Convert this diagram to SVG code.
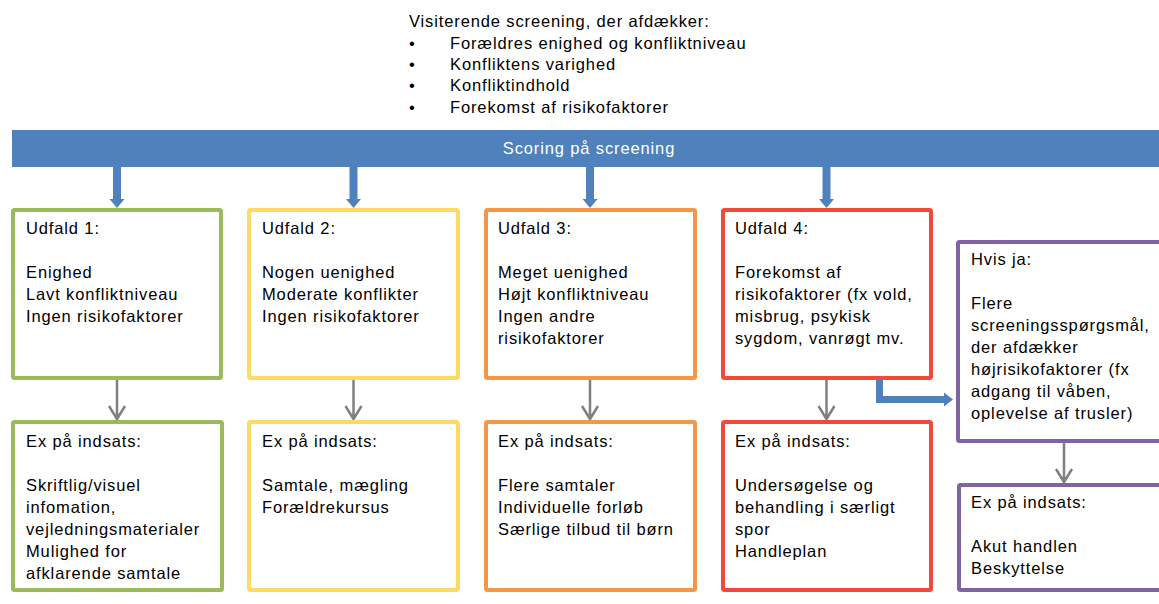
<svg xmlns="http://www.w3.org/2000/svg" width="1159" height="604" viewBox="0 0 1159 604">
<defs>
<style>
text{font-family:"Liberation Sans",Arial,sans-serif;font-size:16.5px;letter-spacing:0.87px;fill:#000}
.box{fill:#fff;stroke-width:4}
.g{stroke:#9BBB59}.y{stroke:#FFD966}.o{stroke:#F79646}.r{stroke:#F24A3A}.p{stroke:#8064A2}
.gray{stroke:#808080;stroke-width:2.5;fill:none}
.blue{fill:#4F81BD}
</style>
</defs>
<rect width="1159" height="604" fill="#fff"/>
<g id="intro">
<text x="409" y="27">Visiterende screening, der afdækker:</text>
<text x="409" y="48.5">•</text><text x="450" y="48.5">Forældres enighed og konfliktniveau</text>
<text x="409" y="70">•</text><text x="450" y="70">Konfliktens varighed</text>
<text x="409" y="91">•</text><text x="450" y="91">Konfliktindhold</text>
<text x="409" y="112.5">•</text><text x="450" y="112.5">Forekomst af risikofaktorer</text>
</g>
<g id="scoring">
<rect x="12" y="130" width="1147" height="37" class="blue"/>
<text x="589" y="154" text-anchor="middle" style="fill:#fff">Scoring på screening</text>
</g>
<g id="connectors">
<polygon class="blue" points="113,167 121,167 121,199 124.5,199 117,208 109.5,199 113,199"/>
<polygon class="blue" points="349.5,167 357.5,167 357.5,199 361,199 353.5,208 346,199 349.5,199"/>
<polygon class="blue" points="586,167 594,167 594,199 597.5,199 590,208 582.5,199 586,199"/>
<polygon class="blue" points="822.5,167 830.5,167 830.5,199 834,199 826.5,208 819,199 822.5,199"/>
<polygon class="blue" points="876,380 883,380 883,396 944,396 944,392.5 953,399.5 944,406.5 944,403 876,403"/>
<g class="gray">
<path d="M117,380V419M109,406L117,419L125,406"/>
<path d="M353.5,380V419M345.5,406L353.5,419L361.5,406"/>
<path d="M590,380V419M582,406L590,419L598,406"/>
<path d="M826.5,380V419M818.5,406L826.5,419L834.5,406"/>
<path d="M1064,443V482M1056,469L1064,482L1072,469"/>
</g>
</g>
<g id="udfald1">
<rect x="13" y="210" width="208" height="168" rx="1.5" class="box g"/>
<text x="26" y="234">Udfald 1:</text>
<text x="26" y="278">Enighed</text>
<text x="26" y="300">Lavt konfliktniveau</text>
<text x="26" y="322">Ingen risikofaktorer</text>
</g>
<g id="udfald2">
<rect x="249" y="210" width="209" height="168" rx="1.5" class="box y"/>
<text x="262" y="234">Udfald 2:</text>
<text x="262" y="278">Nogen uenighed</text>
<text x="262" y="300">Moderate konflikter</text>
<text x="262" y="322">Ingen risikofaktorer</text>
</g>
<g id="udfald3">
<rect x="486" y="210" width="209" height="168" rx="1.5" class="box o"/>
<text x="498" y="234">Udfald 3:</text>
<text x="498" y="278">Meget uenighed</text>
<text x="498" y="300">Højt konfliktniveau</text>
<text x="498" y="322">Ingen andre</text>
<text x="498" y="344">risikofaktorer</text>
</g>
<g id="udfald4">
<rect x="723" y="210" width="208" height="168" rx="1.5" class="box r"/>
<text x="735" y="234">Udfald 4:</text>
<text x="735" y="278">Forekomst af</text>
<text x="735" y="300">risikofaktorer (fx vold,</text>
<text x="735" y="322">misbrug, psykisk</text>
<text x="735" y="344">sygdom, vanrøgt mv.</text>
</g>
<g id="hvisja">
<rect x="958" y="242" width="220" height="199" rx="1.5" class="box p"/>
<text x="971" y="265">Hvis ja:</text>
<text x="971" y="309">Flere</text>
<text x="971" y="331">screeningsspørgsmål,</text>
<text x="971" y="353">der afdækker</text>
<text x="971" y="375">højrisikofaktorer (fx</text>
<text x="971" y="397">adgang til våben,</text>
<text x="971" y="419">oplevelse af trusler)</text>
</g>
<g id="indsats1">
<rect x="13" y="422" width="209" height="168" rx="1.5" class="box g"/>
<text x="26" y="447">Ex på indsats:</text>
<text x="26" y="491">Skriftlig/visuel</text>
<text x="26" y="513">infomation,</text>
<text x="26" y="535">vejledningsmaterialer</text>
<text x="26" y="557">Mulighed for</text>
<text x="26" y="579">afklarende samtale</text>
</g>
<g id="indsats2">
<rect x="249" y="422" width="209" height="168" rx="1.5" class="box y"/>
<text x="262" y="447">Ex på indsats:</text>
<text x="262" y="491">Samtale, mægling</text>
<text x="262" y="513">Forældrekursus</text>
</g>
<g id="indsats3">
<rect x="486" y="422" width="209" height="168" rx="1.5" class="box o"/>
<text x="498" y="447">Ex på indsats:</text>
<text x="498" y="491">Flere samtaler</text>
<text x="498" y="513">Individuelle forløb</text>
<text x="498" y="535">Særlige tilbud til børn</text>
</g>
<g id="indsats4">
<rect x="723" y="422" width="208" height="168" rx="1.5" class="box r"/>
<text x="735" y="447">Ex på indsats:</text>
<text x="735" y="491">Undersøgelse og</text>
<text x="735" y="513">behandling i særligt</text>
<text x="735" y="535">spor</text>
<text x="735" y="557">Handleplan</text>
</g>
<g id="indsats5">
<rect x="959" y="485" width="220" height="105" rx="1.5" class="box p"/>
<text x="971" y="508">Ex på indsats:</text>
<text x="971" y="552">Akut handlen</text>
<text x="971" y="574">Beskyttelse</text>
</g>
</svg>
